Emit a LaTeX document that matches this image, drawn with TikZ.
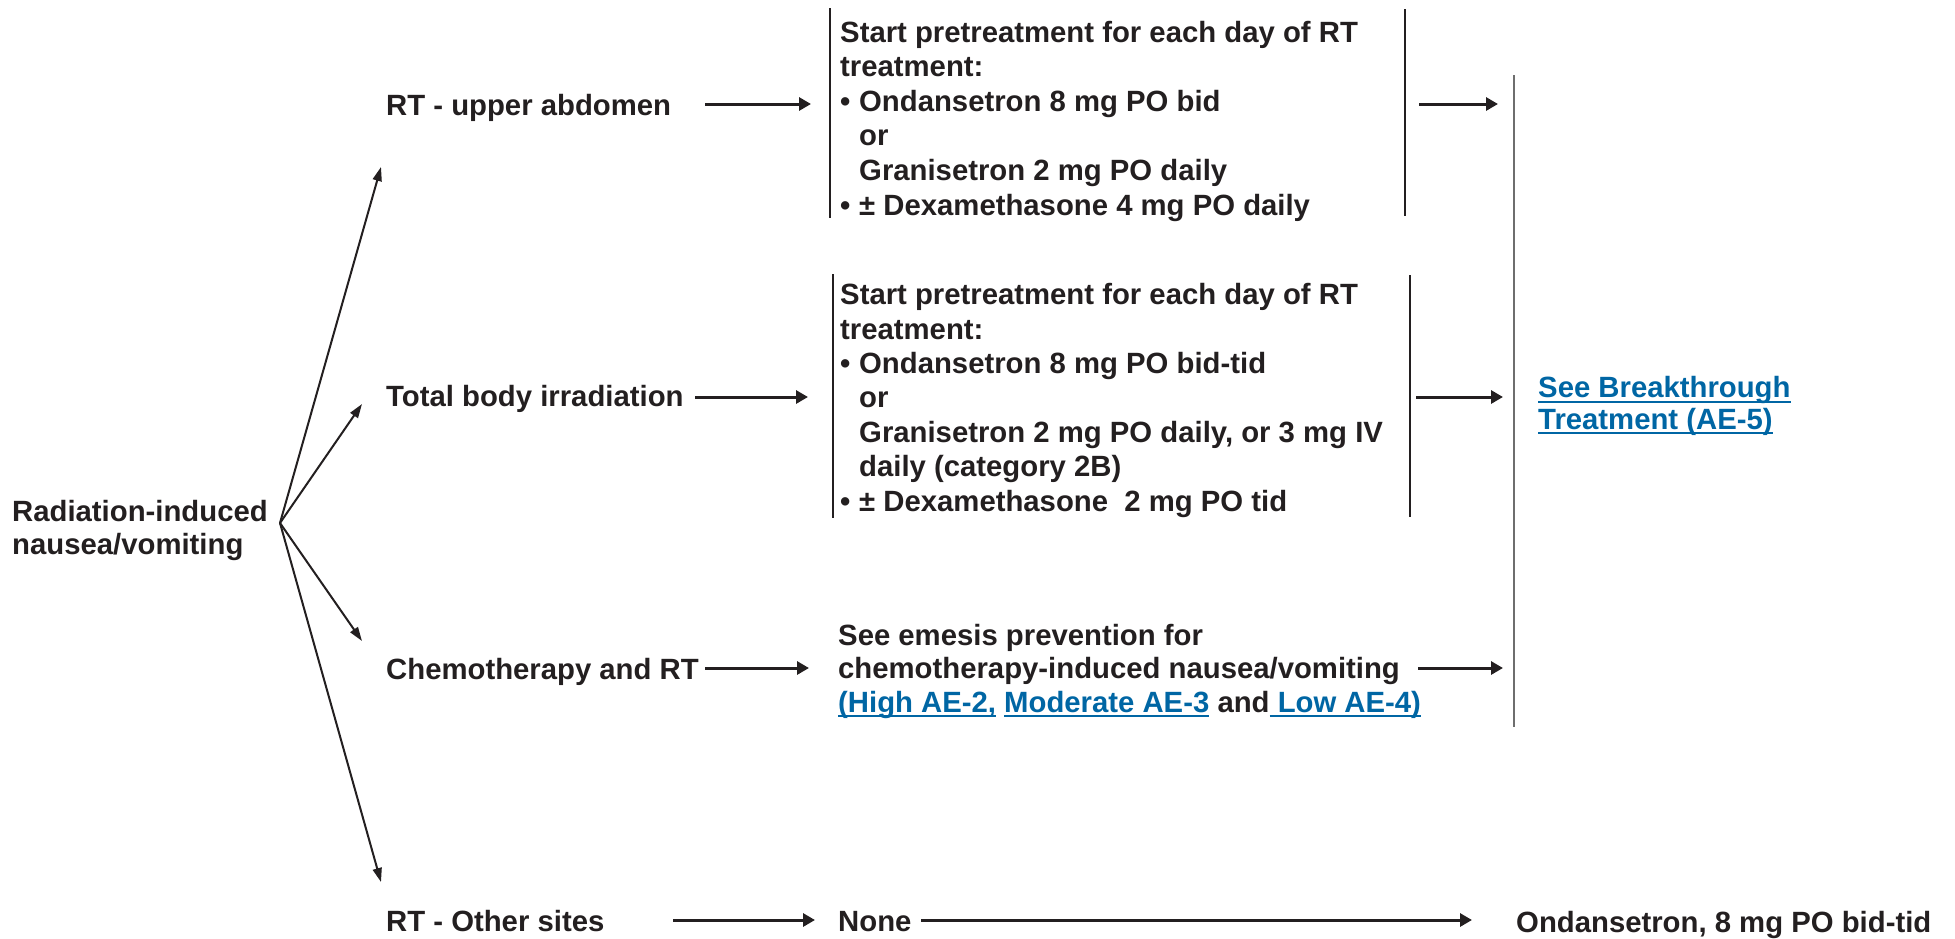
\documentclass[tikz,border=0pt]{standalone}
\usepackage{fontspec}
\setmainfont{Liberation Sans}
\usetikzlibrary{arrows.meta}
\definecolor{ink}{HTML}{231F20}
\definecolor{linkblue}{RGB}{0,102,164}
\definecolor{railgray}{HTML}{6E6E6E}
\newcommand{\lnk}[1]{{\color{linkblue}\setbox0\hbox{#1}\rlap{\rule[-5pt]{\wd0}{2pt}}\box0}}
\newcommand{\bul}{\makebox[19pt][l]{\textbullet}}
\newcommand{\ind}{\hspace*{19pt}}
\begin{document}
\begin{tikzpicture}[x=1pt,y=-1pt,
  txt/.style={anchor=base west, inner sep=0pt, align=left, text=ink, font=\fontsize{29.3}{35}\selectfont\bfseries},
  arr/.style={draw=ink, line width=3pt, -{Triangle[length=12pt,width=13pt]}},
  diag/.style={draw=ink, line width=2pt, -{Triangle[length=14pt,width=9pt]}},
  bar/.style={draw=ink, line width=2.5pt},
  rail/.style={draw=railgray, line width=1.8pt}]
\useasboundingbox (0,0) rectangle (1955,938);

% text nodes (multi-line nodes are placed by the baseline of their last line)
\node[txt, font=\fontsize{29.3}{33}\selectfont\bfseries] (root) at (12,554) {Radiation-induced\\nausea/vomiting};
\node[txt] (rt1) at (386,115) {RT - upper abdomen};
\node[txt] (tbi) at (386,406) {Total body irradiation};
\node[txt] (chemo) at (386,679) {Chemotherapy and RT};
\node[txt] (other) at (386,931) {RT - Other sites};

\node[txt, font=\fontsize{29.3}{34.6}\selectfont\bfseries] (tx1) at (840,215) {Start pretreatment for each day of RT\\treatment:\\\bul Ondansetron 8 mg PO bid\\\ind or\\\ind Granisetron 2 mg PO daily\\\bul ± Dexamethasone 4 mg PO daily};
\node[txt, font=\fontsize{29.3}{34.4}\selectfont\bfseries] (tx2) at (840,511) {Start pretreatment for each day of RT\\treatment:\\\bul Ondansetron 8 mg PO bid-tid\\\ind or\\\ind Granisetron 2 mg PO daily, or 3 mg IV\\\ind daily (category 2B)\\\bul ± Dexamethasone~ 2 mg PO tid};
\node[txt, font=\fontsize{29.3}{33.5}\selectfont\bfseries] (tx3) at (838,712) {See emesis prevention for\\chemotherapy-induced nausea/vomiting\\\lnk{(High AE-2,} \lnk{Moderate AE-3} and\lnk{ Low AE-4)}};
\node[txt, font=\fontsize{29.3}{31.5}\selectfont\bfseries] (bt) at (1538,429) {\lnk{See Breakthrough}\\\lnk{Treatment (AE-5)}};
\node[txt] (none) at (838,931) {None};
\node[txt] (ond) at (1516,932) {Ondansetron, 8 mg PO bid-tid};

% coordinates
\coordinate (J) at (280,523);
\coordinate (u1) at (381,167);
\coordinate (u2) at (362,404);
\coordinate (u3) at (362,641);
\coordinate (u4) at (381,882);

\coordinate (a1s) at (705,104);  \coordinate (a1e) at (811,104);
\coordinate (b1s) at (1419,104); \coordinate (b1e) at (1498,104);
\coordinate (a2s) at (695,397);  \coordinate (a2e) at (808,397);
\coordinate (b2s) at (1416,397); \coordinate (b2e) at (1503,397);
\coordinate (a3s) at (705,668);  \coordinate (a3e) at (809,668);
\coordinate (b3s) at (1418,668); \coordinate (b3e) at (1503,668);
\coordinate (a4s) at (673,920);  \coordinate (a4e) at (815,920);
\coordinate (n4s) at (921,920);  \coordinate (n4e) at (1472,920);

\coordinate (box1tl) at (830,8);   \coordinate (box1bl) at (830,218);
\coordinate (box1tr) at (1405,9);  \coordinate (box1br) at (1405,216);
\coordinate (box2tl) at (833,274); \coordinate (box2bl) at (833,518);
\coordinate (box2tr) at (1410,275);\coordinate (box2br) at (1410,517);
\coordinate (railt) at (1514,75);  \coordinate (railb) at (1514,727);

% diagonal arrows
\draw[diag] (J) -- (u1);
\draw[diag] (J) -- (u2);
\draw[diag] (J) -- (u3);
\draw[diag] (J) -- (u4);

% horizontal arrows
\draw[arr] (a1s) -- (a1e);
\draw[arr] (b1s) -- (b1e);
\draw[arr] (a2s) -- (a2e);
\draw[arr] (b2s) -- (b2e);
\draw[arr] (a3s) -- (a3e);
\draw[arr] (b3s) -- (b3e);
\draw[arr] (a4s) -- (a4e);
\draw[arr] (n4s) -- (n4e);

% brackets
\draw[bar] (box1tl) -- (box1bl);
\draw[bar] (box1tr) -- (box1br);
\draw[bar] (box2tl) -- (box2bl);
\draw[bar] (box2tr) -- (box2br);
\draw[rail] (railt) -- (railb);
\end{tikzpicture}
\end{document}
